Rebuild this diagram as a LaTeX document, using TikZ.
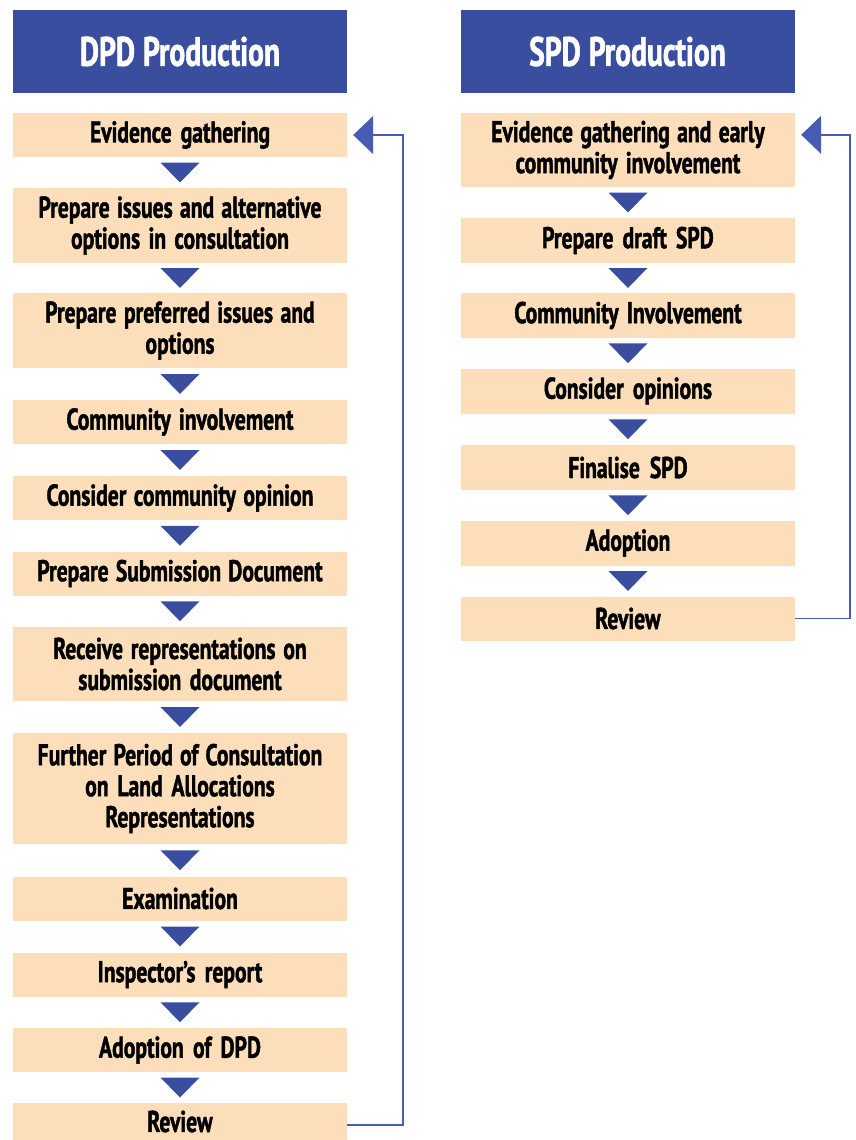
\documentclass[tikz,border=0pt]{standalone}
\usepackage{fontspec}
\setmainfont{PT Sans}[FakeStretch=0.72, BoldFeatures={FakeBold=1.4}]
\usetikzlibrary{arrows.meta,calc}
\definecolor{hblue}{RGB}{58,78,160}
\definecolor{lblue}{RGB}{72,92,178}
\definecolor{peach}{RGB}{252,223,186}
\newcommand{\hdfont}{\bfseries\fontsize{41}{44}\selectfont}
\newcommand{\stfont}{\bfseries\fontsize{30}{31}\selectfont}
\newcommand{\hdspace}{\spaceskip 8pt plus 2pt minus 1pt\relax}
\newcommand{\stspace}{\spaceskip 6.5pt plus 2pt minus 1pt\relax}
\tikzset{
  header/.style={fill=hblue, text=white, minimum width=334pt, minimum height=83pt, inner sep=0pt,
    font=\hdfont, execute at begin node=\hdspace},
  stepbox/.style={fill=peach, text=black, minimum width=334pt, minimum height=44pt, inner sep=0pt,
    text width=330pt, align=center, font=\stfont, execute at begin node=\stspace},
  fb/.style={draw=lblue, line width=1.6pt, -{Triangle[length=20pt,width=38pt]}},
}
\newcommand{\tri}[2]{\fill[hblue] ($(#1.south)!0.5!(#2.north)$) +(-19.5,-10) -- +(19.5,-10) -- +(0,10) -- cycle;}
\begin{document}
\begin{tikzpicture}[x=1pt,y=-1pt]
\clip (0,0) rectangle (856,1140);
\fill[white] (0,0) rectangle (856,1140);
% headers
\node[header] (hd) at (180,51.5) {DPD Production};
\node[header] (hs) at (627.5,51.5) {SPD Production};
% DPD column
\node[stepbox] (d1) at (180,135) {Evidence gathering};
\node[stepbox, minimum height=75pt] (d2) at (180,225.5) {Prepare issues and alternative\\options in consultation};
\node[stepbox, minimum height=75pt] (d3) at (180,330.5) {Prepare preferred issues and\\options};
\node[stepbox] (d4) at (180,422) {Community involvement};
\node[stepbox] (d5) at (180,498) {Consider community opinion};
\node[stepbox] (d6) at (180,573.5) {Prepare Submission Document};
\node[stepbox, minimum height=74pt] (d7) at (180,664) {Receive representations on\\submission document};
\node[stepbox, minimum height=111pt] (d8) at (180,788.5) {Further Period of Consultation\\on Land Allocations\\Representations};
\node[stepbox] (d9) at (180,898.5) {Examination};
\node[stepbox] (d10) at (180,974.5) {Inspector’s report};
\node[stepbox] (d11) at (180,1050) {Adoption of DPD};
\node[stepbox, minimum height=37pt] (d12) at (180,1121.5) {Review};
\tri{d1}{d2}\tri{d2}{d3}\tri{d3}{d4}\tri{d4}{d5}\tri{d5}{d6}\tri{d6}{d7}
\tri{d7}{d8}\tri{d8}{d9}\tri{d9}{d10}\tri{d10}{d11}\tri{d11}{d12}
\draw[fb] ($(d12.east)+(0,3.5)$) -- ++(56,0) |- ($(d1.east)+(6,0)$);
% SPD column
\node[stepbox, minimum height=74pt] (s1) at (628,150) {Evidence gathering and early\\community involvement};
\node[stepbox, minimum height=45pt] (s2) at (628,240.5) {Prepare draft SPD};
\node[stepbox, minimum height=45pt] (s3) at (628,315.5) {Community Involvement};
\node[stepbox, minimum height=45pt] (s4) at (628,391) {Consider opinions};
\node[stepbox, minimum height=45pt] (s5) at (628,467.5) {Finalise SPD};
\node[stepbox, minimum height=45pt] (s6) at (628,543) {Adoption};
\node[stepbox, minimum height=44pt] (s7) at (628,618.5) {Review};
\tri{s1}{s2}\tri{s2}{s3}\tri{s3}{s4}\tri{s4}{s5}\tri{s5}{s6}\tri{s6}{s7}
\draw[fb] (s7.east) -- ++(55,0) |- ($(s1.north east)+(6,22)$);
\end{tikzpicture}
\end{document}
